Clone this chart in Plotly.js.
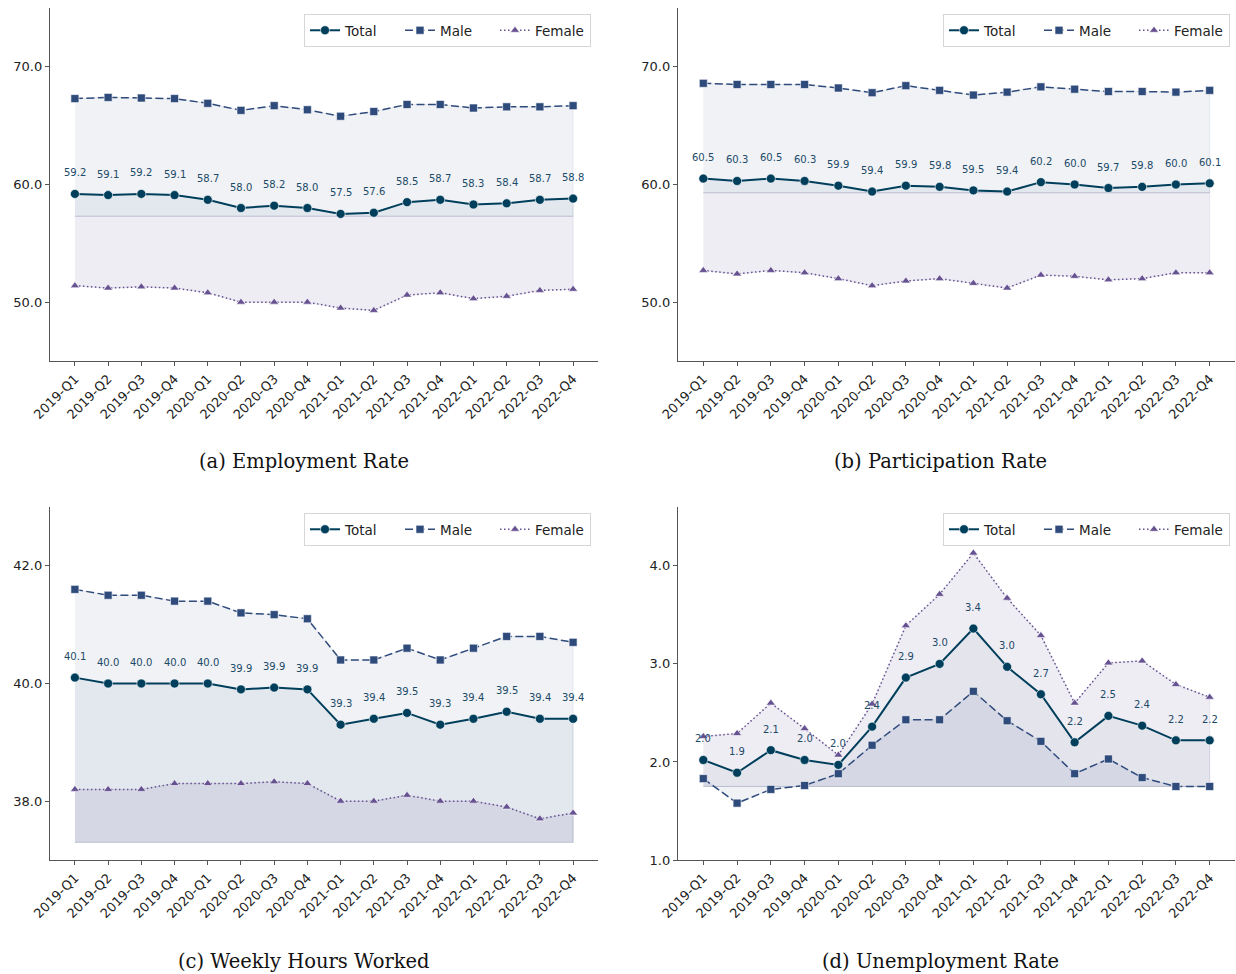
<!DOCTYPE html>
<html>
<head>
<meta charset="utf-8">
<script src="https://cdn.plot.ly/plotly-3.0.1.min.js"></script>
<style>
  html, body { margin: 0; padding: 0; background: #ffffff; }
  #chart { width: 1236px; height: 974px; }
</style>
</head>
<body>
<div id="chart"></div>
<script>
// ---------------- DATA ----------------
const quarters = ['2019-Q1','2019-Q2','2019-Q3','2019-Q4','2020-Q1','2020-Q2','2020-Q3','2020-Q4',
                  '2021-Q1','2021-Q2','2021-Q3','2021-Q4','2022-Q1','2022-Q2','2022-Q3','2022-Q4'];
const seriesNames = ['Total', 'Male', 'Female'];
const captions = ['(a) Employment Rate', '(b) Participation Rate', '(c) Weekly Hours Worked', '(d) Unemployment Rate'];

const empTotal  = [59.2, 59.1, 59.2, 59.1, 58.7, 58.0, 58.2, 58.0, 57.5, 57.6, 58.5, 58.7, 58.3, 58.4, 58.7, 58.8];
const empMale   = [67.3, 67.4, 67.35, 67.3, 66.9, 66.3, 66.7, 66.35, 65.8, 66.2, 66.8, 66.8, 66.5, 66.6, 66.6, 66.7];
const empFemale = [51.4, 51.2, 51.3, 51.2, 50.8, 50.0, 50.0, 50.0, 49.5, 49.3, 50.6, 50.8, 50.3, 50.5, 51.0, 51.1];
const empBase = 57.3;

const partTotal  = [60.5, 60.3, 60.5, 60.3, 59.9, 59.4, 59.9, 59.8, 59.5, 59.4, 60.2, 60.0, 59.7, 59.8, 60.0, 60.1];
const partMale   = [68.6, 68.5, 68.5, 68.5, 68.2, 67.8, 68.4, 68.0, 67.6, 67.85, 68.3, 68.1, 67.9, 67.9, 67.85, 68.0];
const partFemale = [52.7, 52.4, 52.7, 52.5, 52.0, 51.4, 51.8, 52.0, 51.6, 51.2, 52.3, 52.2, 51.9, 52.0, 52.5, 52.5];
const partBase = 59.3;

const hoursTotal  = [40.1, 40.0, 40.0, 40.0, 40.0, 39.9, 39.93, 39.9, 39.3, 39.4, 39.5, 39.3, 39.4, 39.52, 39.4, 39.4];
const hoursMale   = [41.6, 41.5, 41.5, 41.4, 41.4, 41.2, 41.17, 41.1, 40.4, 40.4, 40.6, 40.4, 40.6, 40.8, 40.8, 40.7];
const hoursFemale = [38.2, 38.2, 38.2, 38.3, 38.3, 38.3, 38.33, 38.3, 38.0, 38.0, 38.1, 38.0, 38.0, 37.9, 37.7, 37.8];
const hoursBase = 37.3;

const unempTotal  = [2.02, 1.89, 2.12, 2.02, 1.97, 2.36, 2.86, 3.00, 3.36, 2.97, 2.69, 2.20, 2.47, 2.37, 2.22, 2.22];
const unempMale   = [1.83, 1.58, 1.72, 1.76, 1.88, 2.17, 2.43, 2.43, 2.72, 2.42, 2.21, 1.88, 2.03, 1.84, 1.75, 1.75];
const unempFemale = [2.26, 2.29, 2.60, 2.34, 2.07, 2.59, 3.39, 3.71, 4.13, 3.67, 3.29, 2.60, 3.01, 3.03, 2.79, 2.66];
const unempBase = 1.75;

const yRanges = [[45, 75], [45, 75], [37, 43], [1.0, 4.6]];
const yDticks = [10, 10, 2, 1];

// ---------------- STYLE / LAYOUT ----------------
const W = 1236, H = 974;
const colors = ['#003f5c', '#2f4b7c', '#665191'];
const fillColors = ['rgba(0,63,92,0.05)', 'rgba(47,75,124,0.07)', 'rgba(102,81,145,0.10)'];
const edgeColors = ['rgba(0,63,92,0.07)', 'rgba(47,75,124,0.09)', 'rgba(102,81,145,0.12)'];
const dashes = ['solid', '8px,3.5px', '1.5px,2.5px'];
const widths = [2, 1.5, 1.5];
const symbols = ['circle', 'square', 'triangle-up'];
const msizes = [9, 8, 8];

// pixel boxes of the 4 axes [left, right, top, bottom]
const boxes = [[50, 598, 8, 361], [678, 1235, 8, 361], [50, 598, 507, 860], [678, 1235, 507, 860]];
const legendRT = [[591, 14], [1230, 14], [591, 513], [1230, 513]];
const captionPos = [[304, 461], [940, 461], [304, 961], [940, 961]];

const panels = [
  [empTotal, empMale, empFemale, empBase],
  [partTotal, partMale, partFemale, partBase],
  [hoursTotal, hoursMale, hoursFemale, hoursBase],
  [unempTotal, unempMale, unempFemale, unempBase]
];

const traces = [];
const annotations = [];
const layout = {
  width: W, height: H,
  margin: {l: 0, r: 0, t: 0, b: 0},
  paper_bgcolor: '#ffffff', plot_bgcolor: '#ffffff',
  font: {family: 'DejaVu Sans, sans-serif', size: 13, color: '#222222'},
  showlegend: true,
  hovermode: false
};

panels.forEach((p, i) => {
  const n = i + 1;
  const xa = 'x' + (n === 1 ? '' : n), ya = 'y' + (n === 1 ? '' : n);
  const legName = 'legend' + (n === 1 ? '' : n);
  const base = p[3];
  const vals = [p[0], p[1], p[2]];
  const revQ = quarters.slice().reverse();

  // fills (male, total, female) to baseline
  [1, 0, 2].forEach(k => {
    traces.push({
      x: quarters.concat(revQ),
      y: vals[k].concat(quarters.map(() => base)),
      xaxis: xa, yaxis: ya,
      type: 'scatter', mode: 'lines', fill: 'toself',
      fillcolor: fillColors[k],
      line: {color: edgeColors[k], width: 1},
      showlegend: false, hoverinfo: 'skip'
    });
  });
  // lines
  [0, 1, 2].forEach(k => {
    traces.push({
      x: quarters, y: vals[k], name: seriesNames[k],
      xaxis: xa, yaxis: ya, legend: legName,
      type: 'scatter', mode: 'lines+markers',
      line: {color: colors[k], width: widths[k], dash: dashes[k]},
      marker: {symbol: symbols[k], size: msizes[k], color: colors[k], line: {color: '#ffffff', width: 0.6}},
      showlegend: true
    });
  });
  // value labels on Total
  p[0].forEach((v, j) => {
    annotations.push({
      xref: xa, yref: ya, x: quarters[j], y: v,
      text: v.toFixed(1), showarrow: false,
      yshift: 21, yanchor: 'middle', xanchor: 'center',
      font: {size: 10, color: '#1c4a67', family: 'DejaVu Sans, sans-serif'}
    });
  });
  // caption
  annotations.push({
    xref: 'paper', yref: 'paper',
    x: captionPos[i][0] / W, y: 1 - captionPos[i][1] / H,
    xanchor: 'center', yanchor: 'middle', showarrow: false,
    text: captions[i],
    font: {family: 'DejaVu Serif, serif', size: 19.5, color: '#111111'}
  });

  const b = boxes[i];
  layout['xaxis' + (n === 1 ? '' : n)] = {
    domain: [b[0] / W, b[1] / W], anchor: ya,
    type: 'category', categoryorder: 'array', categoryarray: quarters,
    range: [-0.75, 15.75],
    showline: true, linecolor: '#555555', linewidth: 1.2,
    ticks: 'outside', ticklen: 4, tickwidth: 1, tickcolor: '#555555',
    tickangle: -45, tickfont: {size: 13, color: '#222222'},
    showgrid: false, zeroline: false, fixedrange: true
  };
  layout['yaxis' + (n === 1 ? '' : n)] = {
    domain: [1 - b[3] / H, 1 - b[2] / H], anchor: xa,
    range: yRanges[i], dtick: yDticks[i], tick0: 0, tickformat: '.1f',
    showline: true, linecolor: '#555555', linewidth: 1.2,
    ticks: 'outside', ticklen: 4, tickwidth: 1, tickcolor: '#555555',
    tickfont: {size: 13, color: '#222222'},
    showgrid: false, zeroline: false, fixedrange: true
  };
  layout[legName] = {
    orientation: 'h',
    x: legendRT[i][0] / W, xanchor: 'right',
    y: 1 - legendRT[i][1] / H, yanchor: 'top',
    bgcolor: 'rgba(255,255,255,0.85)', bordercolor: '#d6d6d6', borderwidth: 1,
    font: {size: 13.5, color: '#222222'},
    itemwidth: 30, traceorder: 'normal',
    entrywidth: 50, entrywidthmode: 'pixels',
    tracegroupgap: 0
  };
});
layout.annotations = annotations;

Plotly.newPlot('chart', traces, layout, {displayModeBar: false, staticPlot: true});
</script>
</body>
</html>
